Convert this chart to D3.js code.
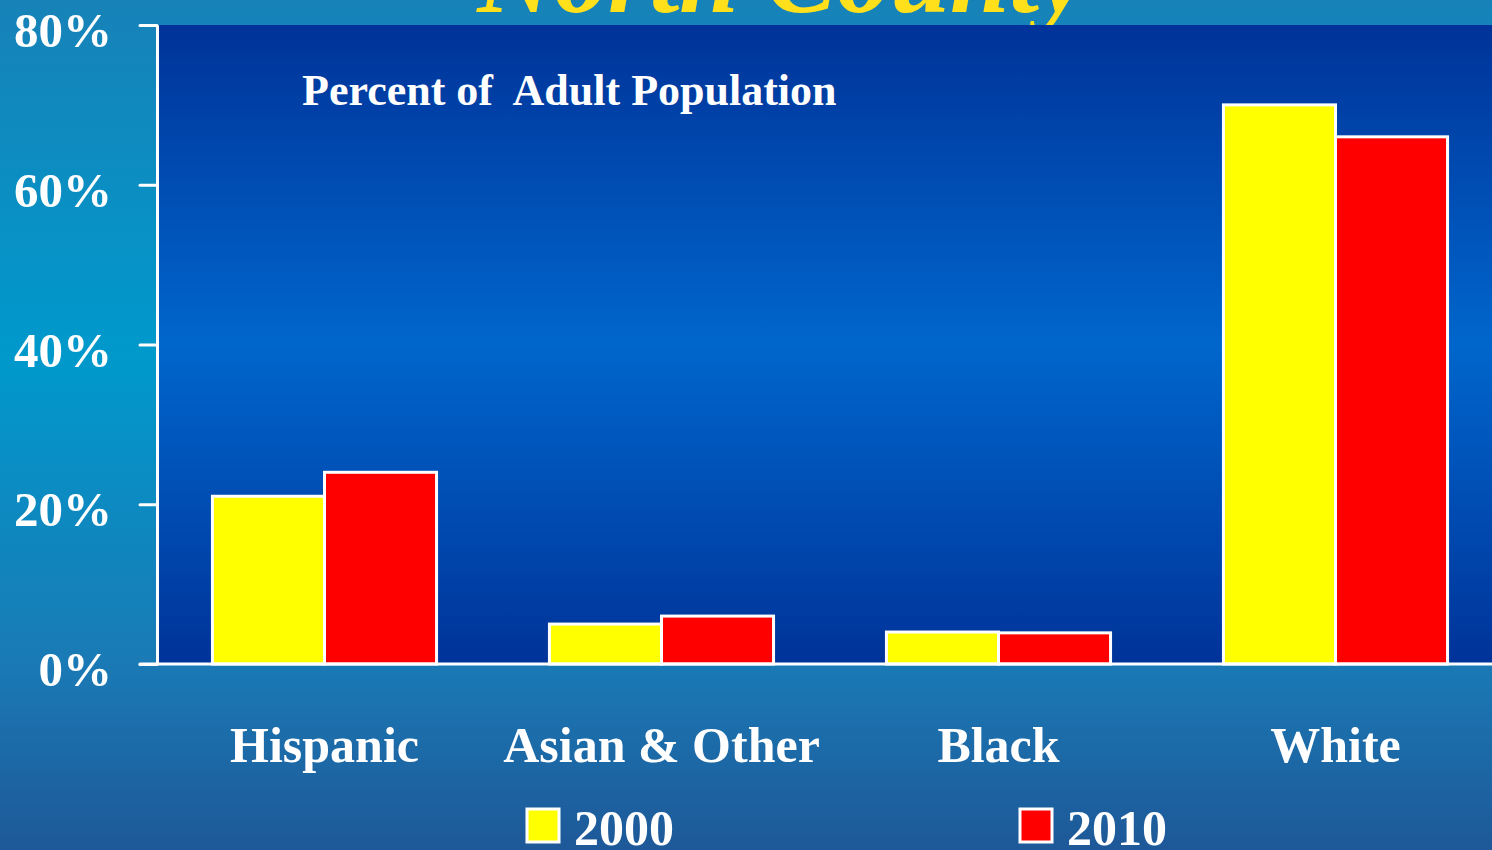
<!DOCTYPE html>
<html>
<head>
<meta charset="utf-8">
<script src="https://cdn.jsdelivr.net/npm/d3@7"></script>
<style>
  html, body { margin: 0; padding: 0; overflow: hidden; }
  text { font-family: "Liberation Serif", "Times New Roman", serif; font-weight: bold; fill: white; }
</style>
</head>
<body>
<svg id="chart" width="1492" height="850"></svg>
<script>
let categories = ['Hispanic', 'Asian & Other', 'Black', 'White']
let seriesNames = ['2000', '2010']
let values2000 = [21, 5, 4, 70]
let values2010 = [24, 6, 3.9, 66]
let seriesColors = ['#ffff00', '#ff0000']
let yTicks = [0, 20, 40, 60, 80]

let svg = d3.select('#chart')
let defs = svg.append('defs')

// outer slide background
let bgGrad = defs.append('linearGradient').attr('id', 'bgGrad')
    .attr('x1', 0).attr('y1', 0).attr('x2', 0).attr('y2', 1)
bgGrad.append('stop').attr('offset', '0').attr('stop-color', '#1782b8')
bgGrad.append('stop').attr('offset', '0.42').attr('stop-color', '#0099cc')
bgGrad.append('stop').attr('offset', '0.78').attr('stop-color', '#1a7ab5')
bgGrad.append('stop').attr('offset', '1').attr('stop-color', '#1e5898')

// plot area background
let plotGrad = defs.append('linearGradient').attr('id', 'plotGrad')
    .attr('x1', 0).attr('y1', 0).attr('x2', 0).attr('y2', 1)
plotGrad.append('stop').attr('offset', '0').attr('stop-color', '#003399')
plotGrad.append('stop').attr('offset', '0.5').attr('stop-color', '#0066cc')
plotGrad.append('stop').attr('offset', '1').attr('stop-color', '#003399')

svg.append('rect').attr('width', 1492).attr('height', 850).style('fill', 'url(#bgGrad)')

// title, mostly cut off by the top edge
svg.append('text')
    .attr('x', 782).attr('y', 12)
    .attr('text-anchor', 'middle')
    .style('font-size', '107px')
    .style('font-style', 'italic')
    .style('fill', '#ffe01a')
    .text('North County')

let y = d3.scaleLinear().domain([0, 80]).range([664, 25])
let x = d3.scaleBand().domain(categories).range([156, 1504])
    .paddingInner(0.335).paddingOuter(0.1675)
let xSub = d3.scaleBand().domain(seriesNames).range([0, x.bandwidth()])

svg.append('rect')
    .attr('x', 158).attr('y', y(80))
    .attr('width', 1492 - 158).attr('height', y(0) - y(80))
    .style('fill', 'url(#plotGrad)')

svg.append('text')
    .attr('x', 302).attr('y', 105)
    .attr('xml:space', 'preserve')
    .style('white-space', 'pre')
    .style('font-size', '44px')
    .text('Percent of  Adult Population')

let data = categories.map((c, i) => ({cat: c, vals: [values2000[i], values2010[i]]}))

let groups = svg.append('g').selectAll('g').data(data).join('g')
    .attr('transform', d => `translate(${x(d.cat)},0)`)

groups.selectAll('rect')
    .data(d => d.vals.map((v, j) => ({v: v, s: seriesNames[j], color: seriesColors[j]})))
    .join('rect')
    .attr('x', d => xSub(d.s))
    .attr('y', d => y(d.v))
    .attr('width', xSub.bandwidth())
    .attr('height', d => y(0) - y(d.v))
    .style('fill', d => d.color)
    .attr('stroke', 'white')
    .attr('stroke-width', 3)

// y axis
let yAxis = svg.append('g').attr('transform', 'translate(157,0)')
    .call(d3.axisLeft(y).tickValues(yTicks).tickFormat(d => d + '%').tickSize(17).tickSizeOuter(0).tickPadding(28))
yAxis.select('.domain').attr('stroke', 'white').attr('stroke-width', 3)
yAxis.selectAll('.tick line').attr('stroke', 'white').attr('stroke-width', 3).attr('stroke-linecap', 'round')
yAxis.selectAll('.tick text')
    .attr('dy', '0.44em')
    .style('font-size', '49px')
    .style('font-family', '"Liberation Serif", "Times New Roman", serif')
    .style('font-weight', 'bold')
    .attr('fill', 'white')

// baseline
svg.append('line')
    .attr('x1', 140).attr('x2', 1492)
    .attr('y1', y(0)).attr('y2', y(0))
    .attr('stroke', 'white').attr('stroke-width', 3).attr('stroke-linecap', 'round')

// category labels
let xAxis = svg.append('g').attr('transform', `translate(0,${y(0)})`)
    .call(d3.axisBottom(x).tickSize(0).tickPadding(62))
xAxis.select('.domain').remove()
xAxis.selectAll('.tick text')
    .style('font-size', '50px')
    .style('font-family', '"Liberation Serif", "Times New Roman", serif')
    .style('font-weight', 'bold')
    .attr('fill', 'white')

// legend
let legendX = [527, 1020]
let legend = svg.append('g').selectAll('g').data(seriesNames).join('g')
    .attr('transform', (d, i) => `translate(${legendX[i]},809)`)
legend.append('rect')
    .attr('width', 32).attr('height', 33)
    .style('fill', (d, i) => seriesColors[i])
    .attr('stroke', 'white').attr('stroke-width', 3)
legend.append('text')
    .attr('x', 47).attr('y', 36)
    .style('font-size', '50px')
    .text(d => d)
</script>
</body>
</html>
